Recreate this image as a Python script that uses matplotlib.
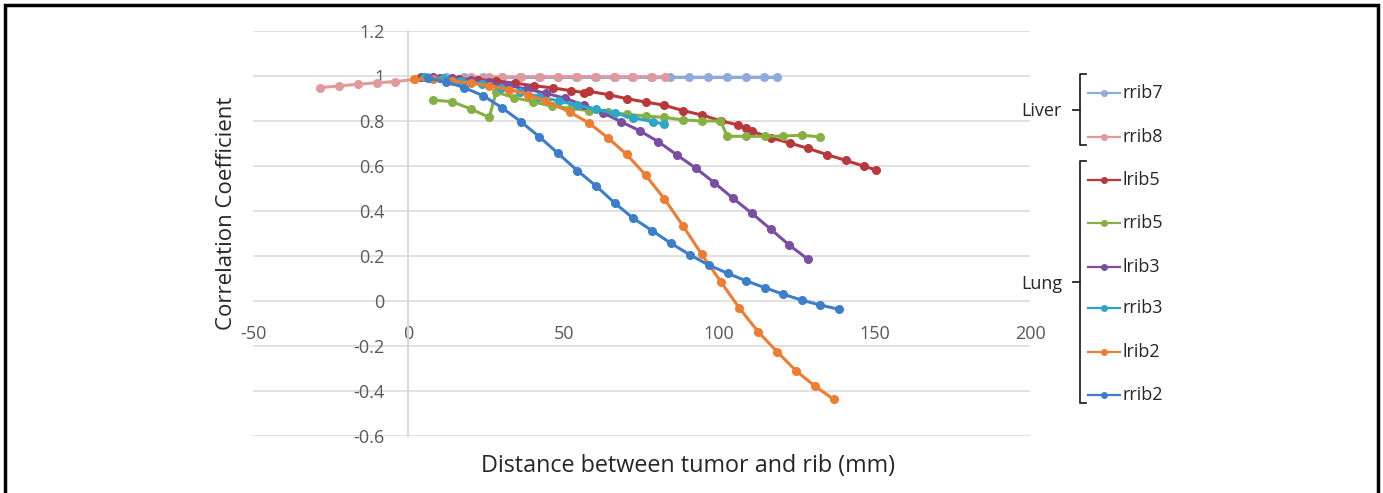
import matplotlib
matplotlib.use("Agg")
import matplotlib.pyplot as plt
from matplotlib.lines import Line2D
from matplotlib.patches import Rectangle

plt.rcParams['font.family'] = ['Open Sans', 'DejaVu Sans']
plt.rcParams['axes.unicode_minus'] = False

# ---- datos ----
names = ['rrib7', 'rrib8', 'lrib5', 'rrib5', 'lrib3', 'rrib3', 'lrib2', 'rrib2']
colors = ['#8faadc', '#e09a9b', '#b8383b', '#86b043', '#7a4ea3', '#2ba8c8', '#ed7d31', '#3d7ecb']

rrib7_x = [6, 12, 18, 24, 30, 36, 42, 48, 54, 60, 66, 72, 78, 84.2, 90.4, 96.5, 102.6, 108.7, 114.5, 118.6]
rrib7_y = [0.996, 0.996, 0.996, 0.996, 0.996, 0.996, 0.996, 0.996, 0.996, 0.996,
           0.996, 0.996, 0.996, 0.996, 0.996, 0.996, 0.996, 0.996, 0.996, 0.996]

rrib8_x = [-28.4, -22.4, -16.3, -10.2, -4.3, 2, 8, 14, 20, 26, 30.2, 36.2, 42.2, 48.2, 54.2, 60.4, 66.4, 72.2, 78.3, 82.6]
rrib8_y = [0.948, 0.956, 0.963, 0.970, 0.975, 0.985, 0.990, 0.993, 0.995, 0.996,
           0.996, 0.997, 0.997, 0.997, 0.997, 0.997, 0.997, 0.997, 0.997, 0.997]

lrib5_x = [4, 10.2, 16.2, 22.3, 28.2, 34.3, 40.3, 46.4, 52.3, 56.6, 58, 64.4, 70.3, 76.4,
           82.3, 88.4, 94.6, 100.5, 106.2, 108.6, 110.5, 116.6, 122.7, 128.7, 134.8, 140.7, 146.6, 150.4]
lrib5_y = [0.995, 0.990, 0.987, 0.984, 0.978, 0.968, 0.957, 0.947, 0.935, 0.926, 0.932, 0.917, 0.899, 0.884,
           0.870, 0.846, 0.826, 0.801, 0.782, 0.770, 0.754, 0.726, 0.702, 0.678, 0.650, 0.625, 0.599, 0.583]

rrib5_x = [7.8, 14, 20.2, 26, 28.2, 34.1, 40.2, 46.1, 52.3, 58.2, 64.1, 70.2, 76.4, 82.3,
           88.4, 94.4, 100.4, 102.6, 108.7, 114.7, 120.5, 126.5, 132.5]
rrib5_y = [0.893, 0.886, 0.853, 0.816, 0.928, 0.904, 0.885, 0.866, 0.856, 0.846, 0.839, 0.830, 0.822, 0.816,
           0.805, 0.800, 0.800, 0.732, 0.732, 0.732, 0.733, 0.737, 0.729]

lrib3_x = [8, 14, 20, 26, 32, 38, 44.3, 50.4, 56.4, 62.5, 68.4, 74.5, 80.4, 86.4,
           92.5, 98.4, 104.5, 110.5, 116.6, 122.5, 128.6]
lrib3_y = [0.995, 0.990, 0.982, 0.972, 0.958, 0.942, 0.923, 0.901, 0.871, 0.837, 0.797, 0.756, 0.708, 0.649,
           0.590, 0.526, 0.456, 0.390, 0.319, 0.249, 0.185]

rrib3_x = [5, 11, 17, 23.7, 29.8, 35.9, 42.1, 48.3, 54.2, 60.4, 66.5, 72.3, 78.6, 82.3]
rrib3_y = [0.995, 0.990, 0.980, 0.965, 0.945, 0.930, 0.908, 0.889, 0.871, 0.852, 0.834, 0.815, 0.797, 0.786]

lrib2_x = [1.9, 8, 14, 20.2, 26, 32.5, 38.4, 44.3, 52, 58.2, 64.2, 70.2, 76.3, 82.3,
           88.4, 94.4, 100.5, 106.4, 112.5, 118.6, 124.7, 130.8, 136.8]
lrib2_y = [0.987, 0.985, 0.978, 0.967, 0.957, 0.940, 0.917, 0.889, 0.839, 0.790, 0.725, 0.652, 0.560, 0.455,
           0.333, 0.207, 0.086, -0.030, -0.136, -0.225, -0.310, -0.378, -0.437]

rrib2_x = [6.2, 12.1, 18, 24.1, 30.1, 36.2, 42.1, 48.1, 54.4, 60.4, 66.5, 72.4, 78.5, 84.5,
           90.6, 96.6, 102.7, 108.6, 114.7, 120.4, 126.5, 132.5, 138.6]
rrib2_y = [0.990, 0.975, 0.948, 0.912, 0.859, 0.797, 0.730, 0.657, 0.579, 0.511, 0.434, 0.367, 0.312, 0.256,
           0.205, 0.160, 0.123, 0.090, 0.059, 0.031, 0.004, -0.018, -0.037]

series_x = [rrib7_x, rrib8_x, lrib5_x, rrib5_x, lrib3_x, rrib3_x, lrib2_x, rrib2_x]
series_y = [rrib7_y, rrib8_y, lrib5_y, rrib5_y, lrib3_y, rrib3_y, lrib2_y, rrib2_y]

x_ticks = [-50, 0, 50, 100, 150, 200]
y_ticks = [-0.6, -0.4, -0.2, 0, 0.2, 0.4, 0.6, 0.8, 1.0, 1.2]
y_labels = ['-0.6', '-0.4', '-0.2', '0', '0.2', '0.4', '0.6', '0.8', '1', '1.2']

groups = [('Liver', 0, 1), ('Lung', 2, 7)]

# ---- figura ----
W, H = 1383, 493
fig = plt.figure(figsize=(W / 100, H / 100), dpi=100)


def fx(px):
    return px / W


def fy(py):
    return 1 - py / H


ax = fig.add_axes([fx(253), fy(436), (1030 - 253) / W, (436 - 31) / H])

for xs, ys, c in zip(series_x, series_y, colors):
    ax.plot(xs, ys, color=c, lw=2.2, marker='o', ms=5.5, zorder=3)

ax.set_xlim(-50, 200)
ax.set_ylim(-0.6, 1.2)
ax.set_xticks(x_ticks)
ax.set_yticks(y_ticks)
ax.set_yticklabels(y_labels)
ax.grid(axis='y', color='#d9d9d9', lw=1.1)
ax.set_axisbelow(True)
for s in ['top', 'right']:
    ax.spines[s].set_visible(False)
ax.spines['left'].set_position(('data', 0))
ax.spines['left'].set_color('#d9d9d9')
ax.spines['left'].set_linewidth(1.5)
ax.spines['bottom'].set_position(('data', 0))
ax.spines['bottom'].set_visible(False)
ax.tick_params(length=0, pad=17, labelsize=13, colors='#595959')

fig.text(fx(226), fy(213), 'Correlation Coefficient', rotation=90,
         ha='center', va='center', fontsize=16, color='#262626')
fig.text(fx(688), fy(466), 'Distance between tumor and rib (mm)',
         ha='center', va='center', fontsize=16.8, color='#262626')

# ---- leyenda con llaves ----
row_y = [93, 137, 180, 223, 267, 308, 352, 395]
for name, c, py in zip(names, colors, row_y):
    fig.add_artist(Line2D([fx(1088), fx(1120)], [fy(py), fy(py)], color=c, lw=1.6,
                          transform=fig.transFigure))
    fig.add_artist(Line2D([fx(1104)], [fy(py)], color=c, marker='o', ms=4,
                          transform=fig.transFigure))
    fig.text(fx(1123), fy(py), name, ha='left', va='center', fontsize=13, color='#262626')

for label, i0, i1 in groups:
    top = row_y[i0] - 19
    bot = row_y[i1] + 8
    mid = (top + bot) / 2
    bx = 1080
    fig.add_artist(Line2D([fx(bx + 6), fx(bx), fx(bx), fx(bx + 6)],
                          [fy(top), fy(top), fy(bot), fy(bot)],
                          color='#262626', lw=1.3, transform=fig.transFigure))
    fig.add_artist(Line2D([fx(bx - 7), fx(bx)], [fy(mid), fy(mid)],
                          color='#262626', lw=1.3, transform=fig.transFigure))
    fig.text(fx(1062), fy(mid + 2), label, ha='right', va='center', fontsize=13, color='#262626')

# marco negro
fig.add_artist(Rectangle((fx(5), fy(520)), (1378 - 5) / W, (520 - 5) / H, fill=False,
                         edgecolor='black', lw=2.5, transform=fig.transFigure))

fig.savefig('out.png', dpi=100)
